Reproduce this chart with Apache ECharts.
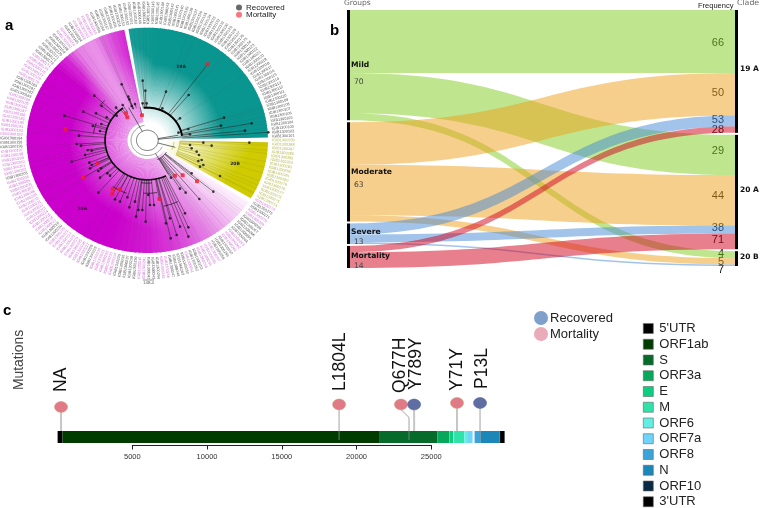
<!DOCTYPE html>
<html><head><meta charset="utf-8">
<style>html,body{margin:0;padding:0;background:#fff}#c{width:760px;height:508px}</style>
<script src="https://cdn.jsdelivr.net/npm/echarts@6/dist/echarts.min.js"></script>
</head><body><div id="c"></div>
<script>
// ---------- Panel a: phylogeny, values in tree-plot units ----------
const recoveredTips=[[428,242],[436,272],[498,275],[487,325],[566,285],[672,353],[755,370],[663,377],[735,392],[805,397],[540,355],[565,387],[570,403],[535,398],[428,310],[440,310],
[365,253],[385,290],[388,298],[283,287],[305,318],[348,323],[368,315],[405,312],[395,318],[250,335],[193,347],[288,340],[320,352],[350,347],[304,372],[278,378],[237,407],[300,393],
[230,432],[243,437],[263,450],[275,452],[255,465],[215,485],[268,488],[275,495],[303,505],[295,513],[270,505],[300,533],[330,527],[322,520],
[295,578],[345,598],[360,605],[388,622],[382,592],[405,605],[408,650],[415,630],[437,665],[427,630],[450,615],[462,615],[445,585],[498,670],[512,715],[530,705],[510,655],[565,710],[540,680],[555,640],[565,682],[540,566],[513,533],[598,597],[557,578],[640,575],[575,520],
[748,428],[610,428],[635,437],[570,435],[575,445],[590,455],[597,465],[605,480],[595,483],[610,495],[600,500],[660,528]];
const mortalityTips=[[623,193],[197,388],[378,340],[426,346],[382,352],[293,489],[250,533],[525,527],[548,526],[591,544],[338,568],[360,568],[337,582],[478,597]];
// shading of each clade wedge: [angle, inner strength, radius of full colour, outer strength]
const shade19A=[[1.5,.03,.64,1],[85,.03,.66,1],[99,.03,.85,.95]];
const shade20A=[[101,.42,.7,.85],[108,.42,.8,.7],[118,.4,.85,.42],[126,.4,.85,.5],[133,.42,.8,.85],[140,.42,.66,1],[250,.42,.68,1],[270,.42,.76,.9],[285,.38,.82,.75],[298,.32,.85,.55],[310,.24,.85,.33],[320,.12,.85,.15],[327,.05,.85,.05]];
const shade20B=[[329,.02,.75,1],[359,.02,.92,1]];
const cladeColors={'19A':[10,150,144],'20A':[204,0,204],'20B':[207,203,0]};
const cladeNames=['19A','20A','20B'];
const cladeNameSpots=[[543,200],[247,625],[705,490]];
// radius, start, end, width, colour
const treeArcs=[[.29,8,96,2,'#000'],[.35,125,296,1.6,'#000'],[.19,296,327,.6,'#000'],[.09,0,360,.7,'#333'],[.135,100,335,.8,'#777'],[.27,333,358,.6,'#B5B000'],[.22,338,356,.6,'#B5B000'],
[.38,262,276,.6,'#000'],[.47,266,280,.6,'#000'],[.6,283,295,.6,'#000'],[.5,235,250,.6,'#000'],[.45,160,172,.6,'#000'],[.5,135,142,.6,'#000']];
// angle, from radius, to radius
const treeStems=[[6,.09,.29],[10,.09,.26],[118,.09,.33],[300,.135,.35],[345,.09,.24]];
const labelRuns=[[52,'g'],[7,'g'],[4,'p'],[2,'g'],[2,'p'],[6,'g'],[6,'p'],[4,'g'],[10,'p'],[3,'g'],[6,'p'],[1,'g'],[14,'p'],[2,'g'],[8,'p'],[2,'g'],[5,'p'],[5,'g'],[2,'p'],[3,'g'],[2,'p'],[4,'g'],[1,'p'],[2,'g'],[4,'p'],[3,'g'],[3,'p'],[5,'g'],[2,'p'],[2,'g'],[1,'p'],[16,'y']];
const labelColors={g:'#555',p:'#D36FD8',y:'#B4B64A'};
// ---------- Panel b: alluvial ----------
const groupNames=['Mild','Moderate','Severe','Mortality'];
const groupCounts=[70,63,13,14];
const cladeNodeNames=['19 A','20 A','20 B'];
const groupColors=['#7FCD1D','#ED9F19','#4589D7','#CF001B'];
const flowValues=[[40,25.6,4.4],[27,32,4],[7,5,1],[4,10,0]];
const frequencyLabels=['66','50','53','28','29','44','38','71','4','5','7'];
const frequencyRows=[43,93,120,130,151,196,228,240,254,262,270];
// ---------- Panel c: genome ----------
const geneNames=["5'UTR",'ORF1ab','S','ORF3a','E','M','ORF6','ORF7a','ORF8','N','ORF10',"3'UTR"];
const geneStarts=[1,330,21563,25393,26245,26523,27202,27394,27894,28274,29558,29600];
const geneEnds=[330,21555,25384,26220,26472,27191,27387,27759,28259,29533,29600,29903];
const geneColors=['#000000','#003C00','#066A2B','#07A85C','#0BCF7F','#2FE3A8','#62EEE4','#6FD3FA','#3BA3D8','#1B86B8','#0A2A44','#000000'];
const mutationNames=['NA','L1804L','Q677H','Y789Y','Y71Y','P13L'];
const mutationSites=[230,18830,23510,23850,26720,28260];
const mutationHeadSites=[230,18830,22970,23850,26720,28260];
const mutationHeights=[38,40.5,40.5,40.5,42,42];
const mutationTextHeights=[53,54,52,55,54,56];
const mutationTextSites=[250,18900,22950,24000,26760,28420];
const mutationOutcome=['Mortality','Mortality','Mortality','Recovered','Mortality','Recovered'];

// ---------- helpers ----------
const CX=442,CY=421,RX=362,RY=338,D=Math.PI/180;
const pol=(r,a)=>[CX+RX*r*Math.cos(a*D),CY-RY*r*Math.sin(a*D)];
const toPolar=t=>{const dx=(t[0]-CX)/RX,dy=(CY-t[1])/RY;let a=Math.atan2(dy,dx)/D;if(a<0)a+=360;return {r:Math.hypot(dx,dy),a};};
const baseRadius=a=>{
  if(a<100)return .29; if(a<125)return .3; if(a<296)return .35; if(a<328)return .19; return .27;};
const allTips=recoveredTips.concat(mortalityTips);
const tipLabels=[];
labelRuns.forEach(run=>{for(let k=0;k<run[0];k++)tipLabels.push({c:run[1],id:'IGIB1300'+(101+tipLabels.length)});});
const step=360/tipLabels.length;
const tint=(rgb,s)=>'rgb('+rgb.map(v=>Math.round(255+(v-255)*s)).join(',')+')';
const sliceList=[];
[['19A',shade19A],['20A',shade20A],['20B',shade20B]].forEach(([clade,keys])=>{
  const last=keys[keys.length-1][0];
  for(let k=0;k<keys.length-1;k++){
    const A=keys[k],B=keys[k+1];
    for(let a=A[0];a<B[0];a+=2){
      const e=Math.min(a+2,B[0]),t=(a+1-A[0])/(B[0]-A[0]),m=j=>A[j]+(B[j]-A[j])*Math.min(t,1);
      sliceList.push({clade,a0:a,a1:Math.min(e+.5,last),inner:m(1),full:m(2),outer:m(3)});
    }
  }
});

const grids=[
 {left:0,top:0,width:330,height:300},
 {left:57.6,top:275,width:447,height:170,containLabel:false},
 {left:132.3,top:435,width:299,height:10}];
const treeAx={xAxisIndex:0,yAxisIndex:0,coordinateSystem:'cartesian2d'};
const genAx={xAxisIndex:1,yAxisIndex:1,coordinateSystem:'cartesian2d'};
const series=[];
const line=(api,pts,stroke,w)=>({type:'polyline',shape:{points:pts.map(p=>api.coord(p))},style:{stroke,lineWidth:w,fill:null},silent:true});

// wedges
series.push({type:'custom',...treeAx,clip:false,silent:true,z:1,data:sliceList.map(s=>[s.a0,s.a1]),
 renderItem(p,api){
  const s=sliceList[p.dataIndex],pts=[],rIn=.165;
  pts.push(pol(1,s.a0));pts.push(pol(1,(s.a0+s.a1)/2));pts.push(pol(1,s.a1));
  pts.push(pol(rIn,s.a1));pts.push(pol(rIn,s.a0));
  const c=api.coord([CX,CY]),col=cladeColors[s.clade];
  const R=(api.size([RX,0])[0]+api.size([0,RY])[1])/2;
  const stops=[{offset:0,color:tint(col,s.inner)},{offset:rIn,color:tint(col,s.inner)},
    {offset:s.full,color:tint(col,s.outer)},{offset:1,color:tint(col,s.outer)}];
  return {type:'polygon',shape:{points:pts.map(q=>api.coord(q))},silent:true,
    style:{fill:new echarts.graphic.RadialGradient(c[0],c[1],R,stops,true)}};
 }});
// faint branch extensions and branches
series.push({type:'custom',...treeAx,clip:false,silent:true,z:2,data:allTips,
 renderItem(p,api){
  const t=allTips[p.dataIndex],o=toPolar(t),b=baseRadius(o.a);
  const col=(o.a>=328&&o.a<360)?'#A8A400':'#222';
  return {type:'group',children:[
    line(api,[t,pol(1,o.a)],'rgba(70,70,70,.2)',.5),
    line(api,[pol(b,o.a),t],col,.55)]};
 }});
series.push({type:'custom',...treeAx,clip:false,silent:true,z:3,data:treeArcs.map(a=>[a[1],a[2]]),
 renderItem(p,api){
  const s=treeArcs[p.dataIndex],pts=[];
  for(let a=s[1];a<s[2];a+=1.5)pts.push(pol(s[0],a));pts.push(pol(s[0],s[2]));
  return line(api,pts,s[4],s[3]);
 }});
series.push({type:'custom',...treeAx,clip:false,silent:true,z:3,data:treeStems.map(a=>[a[1],a[2]]),
 renderItem(p,api){const s=treeStems[p.dataIndex];return line(api,[pol(s[1],s[0]),pol(s[2],s[0])],'#333',.7);}});
// tip labels
series.push({type:'custom',...treeAx,clip:false,silent:true,z:3,data:tipLabels.map((t,i)=>[i,0]),
 renderItem(p,api){
  const i=p.dataIndex,t=tipLabels[i],a=1+(i+.5)*step;
  const q=api.coord(pol(1.035,a)),c=api.coord([CX,CY]);
  const th=Math.atan2(c[1]-q[1],q[0]-c[0]);
  const right=Math.cos(th)>=0;
  return {type:'text',x:q[0],y:q[1],rotation:right?th:th-Math.PI,silent:true,
   style:{text:t.id,fontSize:3.8,fontFamily:'Liberation Sans',fill:labelColors[t.c],align:right?'left':'right',verticalAlign:'middle'}};
 }});
// clade names inside the wedges
series.push({type:'custom',...treeAx,clip:false,silent:true,z:5,data:cladeNameSpots,
 renderItem(p,api){const q=api.coord(cladeNameSpots[p.dataIndex]);
  return {type:'text',x:q[0],y:q[1],silent:true,style:{text:cladeNames[p.dataIndex],fontSize:4.5,fontWeight:'bold',fontFamily:'DejaVu Sans',fill:'#222',align:'center',verticalAlign:'middle'}};}});
// tips
series.push({type:'scatter',name:'Recovered',...treeAx,data:recoveredTips,symbol:'circle',symbolSize:2.6,itemStyle:{color:'#111'},silent:true,z:6});
series.push({type:'scatter',name:'Mortality',...treeAx,data:mortalityTips,symbol:'roundRect',symbolSize:4,itemStyle:{color:'#F01E2C'},silent:true,z:7});

// alluvial
const nodes=[];
const labelOffsets=[[0,8],[0,7],[0,3],[0,4]];
groupNames.forEach((n,i)=>nodes.push({name:n,depth:0,itemStyle:{color:'#000'},
  label:{position:'right',distance:1,offset:labelOffsets[i],formatter:'{n|'+n+'}\n{v|'+groupCounts[i]+'}',
    rich:{n:{fontFamily:'DejaVu Sans',fontWeight:'bold',fontSize:7.6,color:'#111',lineHeight:i<2?(i?13:17):10},
          v:{fontFamily:'DejaVu Sans',fontSize:7.6,color:'#444',padding:[0,0,0,3],lineHeight:i<2?(i?13:17):10}}}}));
cladeNodeNames.forEach(n=>nodes.push({name:n,depth:1,itemStyle:{color:'#000'},
  label:{position:'right',distance:2,offset:[0,-2],fontFamily:'DejaVu Sans',fontWeight:'bold',fontSize:7.5,color:'#111'}}));
const links=[];
groupNames.forEach((g,i)=>cladeNodeNames.forEach((c,j)=>{if(flowValues[i][j]>0)links.push({source:g,target:c,value:flowValues[i][j],lineStyle:{color:groupColors[i],opacity:.5}});}));
series.push({type:'sankey',left:347,top:10,width:391,height:258,nodeWidth:3,nodeGap:2,layoutIterations:0,nodeAlign:'justify',draggable:false,silent:true,emphasis:{disabled:true},
  lineStyle:{curveness:.5},data:nodes,links:links,z:2});

// genome
geneNames.forEach((g,i)=>series.push({type:'custom',name:g,...genAx,clip:false,silent:true,z:3,itemStyle:{color:geneColors[i]},data:[[geneStarts[i],geneEnds[i]]],
 renderItem(p,api){const a=api.coord([geneStarts[i],14]),b=api.coord([geneEnds[i],2]);
  return {type:'rect',shape:{x:a[0],y:a[1],width:b[0]-a[0],height:b[1]-a[1]},style:{fill:geneColors[i]},silent:true};}}));
// stems + heads
const headColors={Mortality:'#DF7A86',Recovered:'#5E6EA3'};
const thinStem=[false,true,true,false,false,true];
series.push({type:'custom',...genAx,clip:false,silent:true,z:4,data:mutationSites.map((m,i)=>[m,mutationHeights[i]]),
 renderItem(p,api){const i=p.dataIndex,top=mutationHeights[i];
  const pts=mutationHeadSites[i]===mutationSites[i]?[[mutationSites[i],top],[mutationSites[i],thinStem[i]?5:14]]:
    [[mutationHeadSites[i],top],[mutationHeadSites[i],top-5],[mutationSites[i],top-13],[mutationSites[i],5]];
  return line(api,pts,thinStem[i]?'#8A8A8A':'#C6C6C6',thinStem[i]?.8:2);}});
series.push({type:'custom',...genAx,clip:false,silent:true,z:5,data:mutationHeadSites.map((m,i)=>[m,mutationHeights[i]]),
 renderItem(p,api){const i=p.dataIndex,q=api.coord([mutationHeadSites[i],mutationHeights[i]]);
  const o=mutationOutcome[i],tx=api.coord([mutationTextSites[i],mutationTextHeights[i]]);
  return {type:'group',children:[
   {type:'ellipse',shape:{cx:q[0],cy:q[1],rx:6.5,ry:5.4},silent:true,style:{fill:headColors[o],stroke:o==='Mortality'?'#D3A27C':'#5E6EA3',lineWidth:.6}},
   {type:'text',x:tx[0],y:tx[1],rotation:Math.PI/2,silent:true,style:{text:mutationNames[i],fontFamily:'Liberation Sans',fontSize:17.5,fill:'#111',align:'left',verticalAlign:'middle'}}]};}});
// tick-carrying axis series
series.push({type:'line',xAxisIndex:2,yAxisIndex:2,data:[],silent:true});

const legendBase={show:true,orient:'vertical',selectedMode:false,icon:'circle'};
const option={
 animation:false,backgroundColor:'#fff',tooltip:{show:false},
 textStyle:{fontFamily:'Liberation Sans'},
 grid:grids,
 xAxis:[
  {gridIndex:0,type:'value',min:0,max:990,show:false},
  {gridIndex:1,type:'value',min:0,max:29903,show:false},
  {gridIndex:2,type:'value',min:5000,max:25000,interval:5000,position:'bottom',
   axisLine:{show:true,lineStyle:{color:'#222',width:1}},axisTick:{show:true,length:4.5,lineStyle:{color:'#222'}},splitLine:{show:false},
   axisLabel:{fontSize:7.5,color:'#333',margin:8,showMinLabel:true,showMaxLabel:true,formatter:v=>String(v)}}],
 yAxis:[
  {gridIndex:0,type:'value',min:0,max:900,inverse:true,show:false},
  {gridIndex:1,type:'value',min:0,max:170,name:'Mutations',nameLocation:'middle',nameGap:31,nameRotate:90,nameTextStyle:{fontSize:13.9,color:'#444'},axisLine:{show:false},axisTick:{show:false},axisLabel:{show:false},splitLine:{show:false}},
  {gridIndex:2,type:'value',min:0,max:1,show:false}],
 legend:[
  {...legendBase,left:236,top:3.5,itemWidth:6,itemHeight:6,itemGap:-.7,padding:0,
   textStyle:{fontSize:8,color:'#222',lineHeight:6,padding:[0,0,0,-1]},
   data:[{name:'Recovered',itemStyle:{color:'#444'}},{name:'Mortality',itemStyle:{color:'#F2555F'}}]},
  {...legendBase,left:534,top:311,itemWidth:14,itemHeight:14,itemGap:2,padding:0,
   textStyle:{fontSize:13,color:'#222',padding:[0,0,0,-3]},
   data:[{name:'Recovered',itemStyle:{color:'#5F88BD'}},{name:'Mortality',itemStyle:{color:'#E695A5'}}]},
  {...legendBase,icon:'rect',left:643,top:322,height:240,itemWidth:10,itemHeight:10,itemGap:2.75,padding:0,
   textStyle:{fontSize:13,color:'#222',padding:[0,0,0,1]},
   data:geneNames.map((g,i)=>({name:g,itemStyle:{color:geneColors[i],borderColor:'#666',borderWidth:.6}}))}],
 graphic:[
  ...[['a',5,25],['b',330,30],['c',3,310]].map(t=>({type:'text',left:t[1],top:t[2]-7,style:{text:t[0],font:'bold 15px "Liberation Sans"',fill:'#000'}})),
  {type:'text',x:344,y:3,style:{text:'Groups',font:'7.5px "DejaVu Sans"',fill:'#666',textVerticalAlign:'middle'}},
  {type:'text',x:698,y:6,style:{text:'Frequency',font:'7.5px "Liberation Sans"',fill:'#222',textVerticalAlign:'middle'}},
  {type:'text',x:737,y:3,style:{text:'Clade',font:'7.8px "DejaVu Sans"',fill:'#666',textVerticalAlign:'middle'}},
  ...frequencyLabels.map((t,i)=>({type:'text',x:724,y:frequencyRows[i],style:{text:t,font:'11px "Liberation Sans"',fill:'#111',textAlign:'right',textVerticalAlign:'middle'}})),
  {type:'line',shape:{x1:143,y1:280,x2:154,y2:280},style:{stroke:'#555',lineWidth:.6}},
  {type:'text',x:148.5,y:283.5,style:{text:'1.0E-4',font:'3.5px "Liberation Sans"',fill:'#444',textAlign:'center',textVerticalAlign:'middle'}}
 ],
 series
};
const chart=echarts.init(document.getElementById('c'),null,{renderer:'canvas'});
chart.setOption(option);
</script></body></html>
